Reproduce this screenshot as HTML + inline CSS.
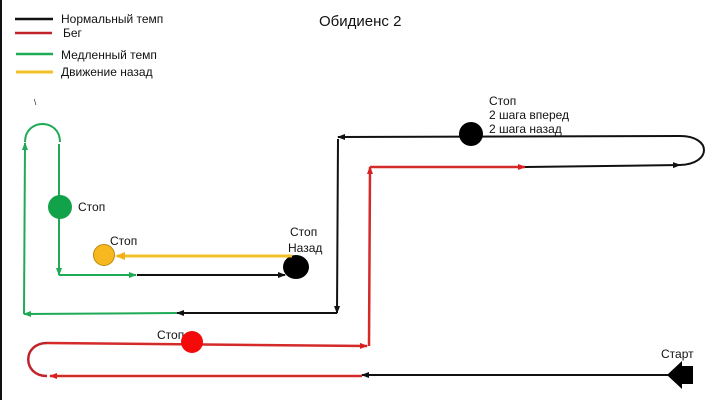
<!DOCTYPE html>
<html><head><meta charset="utf-8"><style>
html,body{margin:0;padding:0;background:#fff;}
svg{display:block;}
text{font-family:"Liberation Sans",sans-serif;fill:#111;}
</style></head><body>
<svg width="720" height="400" viewBox="0 0 720 400" xmlns="http://www.w3.org/2000/svg">
<defs>
<marker id="ak" markerWidth="8" markerHeight="8" refX="7" refY="4" orient="auto" markerUnits="userSpaceOnUse"><path d="M0,1 L8,4 L0,7 Z" fill="#111"/></marker>
<marker id="ar" markerWidth="8" markerHeight="8" refX="7" refY="4" orient="auto" markerUnits="userSpaceOnUse"><path d="M0,1 L8,4 L0,7 Z" fill="#d91f1f"/></marker>
<marker id="ag" markerWidth="8" markerHeight="8" refX="7" refY="4" orient="auto" markerUnits="userSpaceOnUse"><path d="M0,1 L8,4 L0,7 Z" fill="#1faa55"/></marker>
<marker id="ay" markerWidth="10" markerHeight="10" refX="8" refY="5" orient="auto" markerUnits="userSpaceOnUse"><path d="M0,1 L10,5 L0,9 Z" fill="#f2b21b"/></marker>
</defs>
<rect x="0" y="0" width="2" height="400" fill="#111"/>
<!-- legend -->
<line x1="15" y1="19" x2="53" y2="19" stroke="#111" stroke-width="2.5"/>
<line x1="15" y1="33" x2="52" y2="33" stroke="#c0242a" stroke-width="2.5"/>
<line x1="16" y1="54" x2="53" y2="54" stroke="#1faa55" stroke-width="2.5"/>
<line x1="16" y1="72" x2="53" y2="72" stroke="#f2c02a" stroke-width="3"/>
<text x="61" y="23" font-size="12">Нормальный темп</text>
<text x="63" y="37" font-size="12">Бег</text>
<text x="61" y="59" font-size="12">Медленный темп</text>
<text x="61" y="76" font-size="12">Движение назад</text>
<text x="319" y="26" font-size="15">Обидиенс 2</text>
<!-- start arrow -->
<path d="M693,366 L682,366 L682,361 L667,375 L682,389 L682,384 L693,384 Z" fill="#000"/>
<text x="661" y="358" font-size="12">Старт</text>
<line x1="668" y1="375" x2="362" y2="375" stroke="#111" stroke-width="2" marker-end="url(#ak)"/>
<!-- red -->
<line x1="362" y1="376" x2="50" y2="376" stroke="#d42a2a" stroke-width="2.5" marker-end="url(#ar)"/>
<path d="M47,376 C22,376 22,343 47,343" fill="none" stroke="#c0242a" stroke-width="2.5"/>
<line x1="47" y1="343" x2="367" y2="346" stroke="#d42a2a" stroke-width="2.5" marker-end="url(#ar)"/>
<line x1="369" y1="346" x2="370" y2="167" stroke="#d42a2a" stroke-width="2.5" marker-end="url(#ar)"/>
<line x1="370" y1="167" x2="525" y2="167" stroke="#d42a2a" stroke-width="2.5" marker-end="url(#ar)"/>
<text x="157" y="339" font-size="12">Стоп</text>
<circle cx="192" cy="342" r="11" fill="#f50a0a"/>
<!-- black upper -->
<line x1="525" y1="167" x2="680" y2="165" stroke="#111" stroke-width="2" marker-end="url(#ak)"/>
<path d="M680,165 C712,164 712,136 680,136" fill="none" stroke="#111" stroke-width="2"/>
<line x1="680" y1="136" x2="338" y2="137" stroke="#111" stroke-width="2" marker-end="url(#ak)"/>
<circle cx="471" cy="134" r="12" fill="#000"/>
<text x="489" y="105" font-size="12">Стоп</text>
<text x="489" y="119" font-size="12">2 шага вперед</text>
<text x="489" y="133" font-size="12">2 шага назад</text>
<line x1="338" y1="139" x2="337" y2="313" stroke="#111" stroke-width="2" marker-end="url(#ak)"/>
<line x1="337" y1="313" x2="177" y2="313" stroke="#111" stroke-width="2" marker-end="url(#ak)"/>
<!-- green -->
<line x1="177" y1="313" x2="24" y2="314" stroke="#1faa55" stroke-width="2" marker-end="url(#ag)"/>
<line x1="24" y1="314" x2="25" y2="143" stroke="#1faa55" stroke-width="2" marker-end="url(#ag)"/>
<path d="M25,142 C25,118 60,118 60,142" fill="none" stroke="#1faa55" stroke-width="2"/>
<line x1="59" y1="144" x2="59" y2="275" stroke="#1faa55" stroke-width="2" marker-end="url(#ag)"/>
<line x1="59" y1="275" x2="136" y2="275" stroke="#1faa55" stroke-width="2" marker-end="url(#ag)"/>
<circle cx="60" cy="207" r="12" fill="#12a34a"/>
<text x="78" y="211" font-size="12">Стоп</text>
<line x1="137" y1="275" x2="285" y2="275" stroke="#111" stroke-width="2" marker-end="url(#ak)"/>
<ellipse cx="296" cy="267" rx="13" ry="12" fill="#000"/>
<text x="290" y="236" font-size="12">Стоп</text>
<text x="288" y="252" font-size="12">Назад</text>
<!-- yellow -->
<line x1="292" y1="256" x2="117" y2="256" stroke="#f2c02a" stroke-width="3" marker-end="url(#ay)"/>
<circle cx="104" cy="255" r="10.5" fill="#f6b81e" stroke="#b88a10" stroke-width="1"/>
<text x="110" y="245" font-size="12">Стоп</text>
<text x="34" y="105" font-size="8" fill="#999">\</text>
</svg>
</body></html>
